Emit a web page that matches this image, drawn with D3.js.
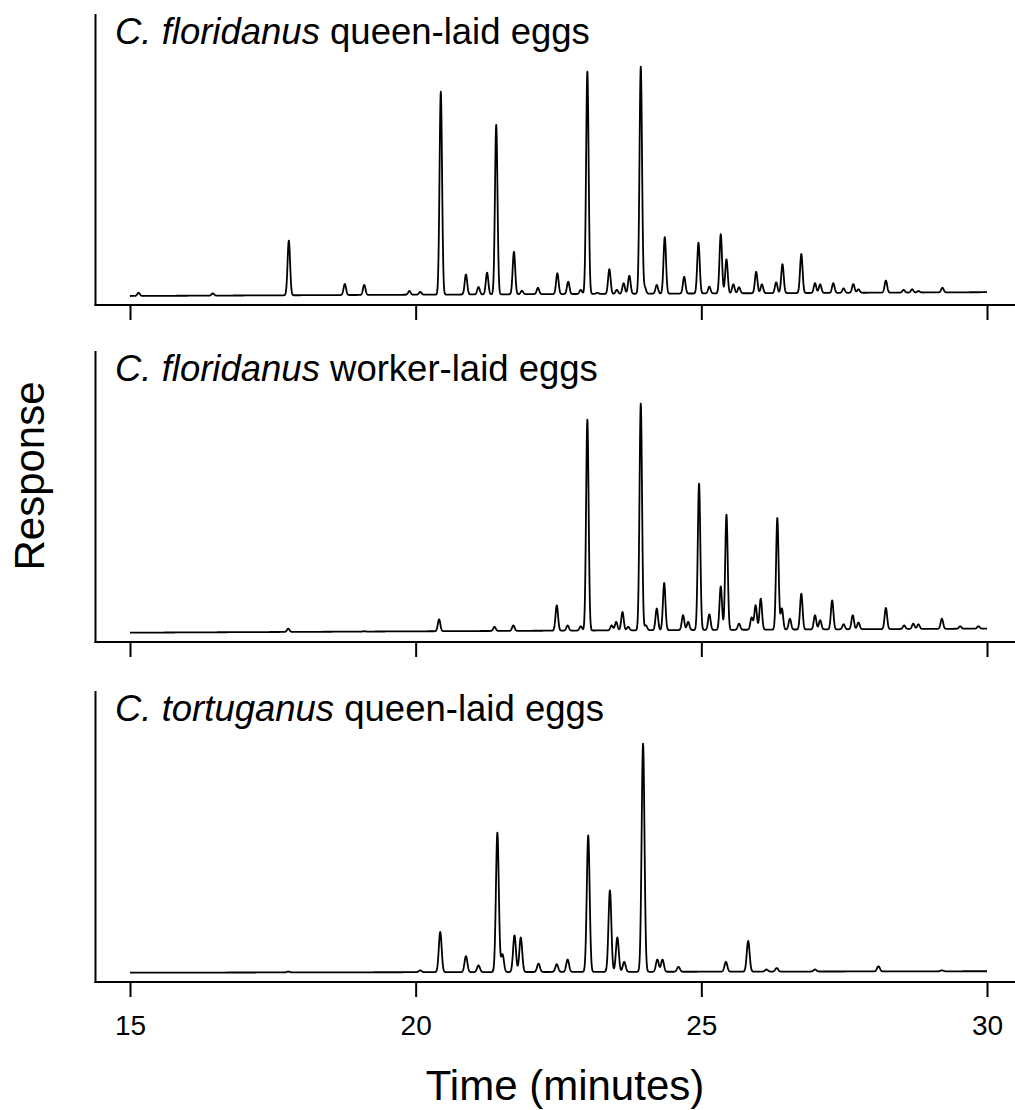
<!DOCTYPE html>
<html>
<head>
<meta charset="utf-8">
<script src="https://cdn.jsdelivr.net/npm/d3@7"></script>
<style>
  html, body { margin: 0; padding: 0; background: #fff; }
  svg { display: block; }
  text { font-family: "Liberation Sans", Arial, Helvetica, sans-serif; fill: #000; }
</style>
</head>
<body>
<svg id="chart" width="1015" height="1110"></svg>
<script>
// ---------------- data ----------------
const xTicks = [15, 20, 25, 30];
const timeDomain = [15, 30];

const panelSpecies = ["C. floridanus", "C. floridanus", "C. tortuganus"];
const panelSuffix = [" queen-laid eggs", " worker-laid eggs", " queen-laid eggs"];

// baseline response at 15 min and at 30 min (arbitrary units, 0-100 scale)
const baselineStart = [3.1, 3.2, 3.2];
const baselineEnd = [4.4, 4.6, 3.7];

// C. floridanus queen-laid eggs: peak retention times (min) and apex responses
const qFloRT = [15.15, 16.45, 17.78, 18.76, 19.10, 19.89, 20.08, 20.44, 20.88, 21.10,
  21.25, 21.41, 21.72, 21.86, 22.14, 22.48, 22.67, 22.89, 23.005, 23.18,
  23.39, 23.52, 23.64, 23.74, 23.94, 24.01, 24.22, 24.36, 24.70, 24.95,
  25.14, 25.34, 25.44, 25.56, 25.66, 25.96, 26.06, 26.31, 26.42, 26.75,
  26.99, 27.08, 27.31, 27.49, 27.66, 27.75, 28.23, 28.54, 28.69, 28.80, 29.22];
const qFloResp = [4.2, 4.0, 22.1, 7.2, 6.9, 4.8, 4.5, 73.3, 10.5, 6.2,
  11.1, 61.9, 18.3, 4.9, 5.9, 10.9, 8.0, 5.2, 80.2, 4.2,
  12.3, 5.2, 7.5, 10.1, 81.9, 6.1, 6.9, 23.3, 9.7, 21.4,
  6.3, 24.3, 15.7, 7.1, 6.1, 11.4, 7.1, 7.8, 14.0, 17.5,
  7.5, 7.1, 7.5, 5.7, 7.2, 5.4, 8.4, 5.2, 5.4, 4.8, 5.9];

// C. floridanus worker-laid eggs
const wFloRT = [17.77, 19.10, 20.41, 21.38, 21.71, 22.47, 22.66, 22.89, 23.005, 23.43,
  23.51, 23.62, 23.72, 23.94, 24.03, 24.22, 24.35, 24.68, 24.77, 24.96,
  25.14, 25.34, 25.44, 25.66, 25.88, 25.95, 26.04, 26.33, 26.41, 26.55,
  26.75, 26.99, 27.08, 27.29, 27.49, 27.65, 27.75, 28.23, 28.55, 28.71,
  28.80, 29.21, 29.53, 29.85];
const wFloResp = [4.6, 3.7, 7.8, 5.2, 5.7, 12.6, 5.7, 5.4, 76.4, 5.7,
  6.9, 10.3, 5.2, 81.9, 5.7, 11.5, 20.3, 9.2, 6.9, 54.4,
  9.5, 19.1, 43.8, 6.3, 8.4, 12.6, 14.9, 42.6, 11.5, 8.0,
  16.6, 9.2, 7.5, 14.3, 6.1, 9.2, 6.7, 11.7, 5.7, 6.3,
  6.1, 8.0, 5.4, 5.4];

// C. tortuganus queen-laid eggs
const qTorRT = [17.77, 20.08, 20.43, 20.88, 21.10, 21.43, 21.52, 21.73, 21.84, 22.15,
  22.47, 22.66, 23.02, 23.40, 23.53, 23.65, 23.98, 24.23, 24.32, 24.60,
  25.43, 25.82, 26.14, 26.32, 26.99, 28.10, 29.21];
const qTorResp = [3.6, 4.0, 17.2, 8.9, 5.7, 51.3, 9.5, 16.0, 15.3, 6.3,
  6.1, 7.7, 50.4, 31.5, 15.3, 6.9, 81.9, 7.7, 7.7, 5.2,
  6.9, 14.1, 4.3, 4.8, 4.3, 5.4, 4.0];

const panelRT = [qFloRT, wFloRT, qTorRT];
const panelResp = [qFloResp, wFloResp, qTorResp];
const peakWidth = [0.022, 0.022, 0.025]; // peak sigma (min), drawing style

// ---------------- layout ----------------
const svg = d3.select("#chart");
const panelTops = [14, 351, 691];
const panelH = 291;
const yAxisX = 95.5;
const x = d3.scaleLinear().domain(timeDomain).range([130, 987]);

function trace(i) {
  const rt = panelRT[i], resp = panelResp[i], s = peakWidth[i];
  const b0 = baselineStart[i], b1 = baselineEnd[i];
  const base = t => b0 + (b1 - b0) * (t - 15) / 15;
  const ts = d3.range(15, 30.0001, 0.004).concat(rt).sort((a, b) => a - b);
  return ts.map(t => {
    let v = base(t);
    for (let k = 0; k < rt.length; k++) {
      const d = (t - rt[k]) / s;
      if (Math.abs(d) < 8) v += (resp[k] - base(rt[k])) * Math.exp(-0.5 * d * d);
    }
    return [t, v];
  });
}

panelTops.forEach((top, i) => {
  const g = svg.append("g").attr("transform", `translate(0,${top})`);
  const y = d3.scaleLinear().domain([0, 100]).range([panelH, 0]);

  // trace
  const line = d3.line().x(d => x(d[0])).y(d => y(d[1]));
  g.append("path")
    .datum(trace(i))
    .attr("d", line)
    .attr("fill", "none")
    .attr("stroke", "#000")
    .attr("stroke-width", 1.8)
    .attr("stroke-linejoin", "round");

  // y axis line
  g.append("line")
    .attr("x1", yAxisX).attr("x2", yAxisX)
    .attr("y1", 0).attr("y2", panelH + 1)
    .attr("stroke", "#000").attr("stroke-width", 2);

  // x axis
  const ax = g.append("g")
    .attr("transform", `translate(0,${panelH})`)
    .call(d3.axisBottom(x).tickValues(xTicks).tickSize(15).tickPadding(18.5)
      .tickFormat(i === 2 ? d3.format("d") : () => ""));
  ax.select(".domain").remove();
  ax.selectAll(".tick line").attr("stroke", "#000").attr("stroke-width", 2);
  ax.selectAll(".tick text").attr("font-size", 28).attr("fill", "#000")
    .style("font-family", '"Liberation Sans", Arial, sans-serif');
  ax.append("line")
    .attr("x1", yAxisX - 1).attr("x2", 1015)
    .attr("y1", 0).attr("y2", 0)
    .attr("stroke", "#000").attr("stroke-width", 2);

  // title
  const t = g.append("text")
    .attr("x", 115).attr("y", 29.5)
    .attr("font-size", 36.5);
  t.append("tspan").attr("font-style", "italic").text(panelSpecies[i]);
  t.append("tspan").text(panelSuffix[i]);
});

// axis titles
svg.append("text")
  .attr("x", 565).attr("y", 1100)
  .attr("text-anchor", "middle")
  .attr("font-size", 42)
  .text("Time (minutes)");

svg.append("text")
  .attr("transform", "translate(43.5,476) rotate(-90)")
  .attr("text-anchor", "middle")
  .attr("font-size", 42)
  .text("Response");
</script>
</body>
</html>
